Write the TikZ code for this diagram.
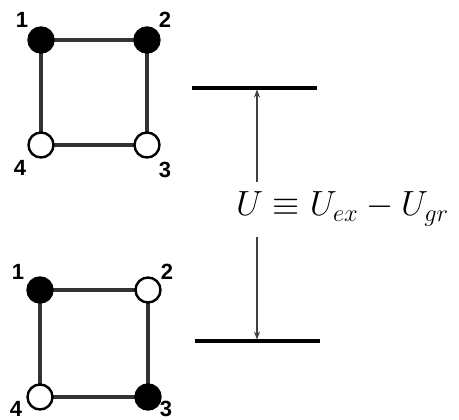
\RequirePackage{fix-cm}
\documentclass[tikz,border=0pt]{standalone}
\usepackage{fontspec}
\newfontfamily\labfont{Liberation Sans}
\usetikzlibrary{arrows.meta}
\begin{document}
\begin{tikzpicture}[x=1pt,y=-1pt,
  site/.style={circle,draw=black,line width=2.4pt,minimum size=25pt,inner sep=0pt},
  full/.style={site,fill=black},
  empty/.style={site,fill=white},
  edge/.style={draw=black!80,line width=3.2pt},
  lab/.style={font=\labfont\bfseries\fontsize{22}{24}\selectfont,inner sep=0pt},
  level/.style={line width=3.2pt,black},
  gap/.style={line width=1.6pt,black!75,-{Stealth[length=8pt,width=6pt]}}]
\useasboundingbox (0,0) rectangle (459,420);
\fill[white] (0,0) rectangle (459,420);
% top square
\coordinate (a1) at (41,40);
\coordinate (a2) at (147,40);
\coordinate (a3) at (147,145);
\coordinate (a4) at (41,145);
\draw[edge] (a1) -- (a2) -- (a3) -- (a4) -- cycle;
\node[full] (n1) at (a1) {};
\node[full] (n2) at (a2) {};
\node[empty] (n3) at (a3) {};
\node[empty] (n4) at (a4) {};
\node[lab] (l1) at (22,20) {1};
\node[lab] (l2) at (165,20) {2};
\node[lab] (l3) at (165,170) {3};
\node[lab] (l4) at (20,168) {4};
% bottom square
\coordinate (b1) at (40,290);
\coordinate (b2) at (148,290);
\coordinate (b3) at (148,397);
\coordinate (b4) at (40,397);
\draw[edge] (b1) -- (b2) -- (b3) -- (b4) -- cycle;
\node[full] (m1) at (b1) {};
\node[empty] (m2) at (b2) {};
\node[full] (m3) at (b3) {};
\node[empty] (m4) at (b4) {};
\node[lab] (k1) at (18,272) {1};
\node[lab] (k2) at (167,272) {2};
\node[lab] (k3) at (166,409) {3};
\node[lab] (k4) at (16,409) {4};
% energy levels
\coordinate (e1a) at (192,88);
\coordinate (e1b) at (317,88);
\coordinate (e2a) at (195,341);
\coordinate (e2b) at (320,341);
\draw[level] (e1a) -- (e1b);
\draw[level] (e2a) -- (e2b);
\node[anchor=base west,inner sep=0pt,font=\fontsize{35}{40}\selectfont] (eq) at (236,216) {$U\equiv U_{ex}-U_{gr}$};
\coordinate (u0) at (257,182);
\coordinate (u1) at (257,89.5);
\coordinate (d0) at (257,237);
\coordinate (d1) at (257,339.5);
\draw[gap] (u0) -- (u1);
\draw[gap] (d0) -- (d1);
\end{tikzpicture}
\end{document}
